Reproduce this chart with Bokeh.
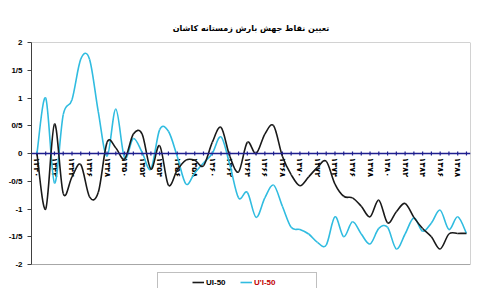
import math
from bokeh.plotting import figure
from bokeh.models import (Range1d, FixedTicker, Legend, LegendItem, Span, ColumnDataSource)
from bokeh.core.properties import value
from bokeh.embed import file_html
from bokeh.resources import INLINE

# ---- data -------------------------------------------------------------
years = [1340, 1341, 1342, 1343, 1344, 1345, 1346, 1347, 1348, 1349,
         1350, 1351, 1352, 1353, 1354, 1355, 1356, 1357, 1358, 1359,
         1360, 1361, 1362, 1363, 1364, 1365, 1366, 1367, 1368, 1369,
         1370, 1371, 1372, 1373, 1374, 1375, 1376, 1377, 1378, 1379,
         1380, 1381, 1382, 1383, 1384, 1385, 1386, 1387, 1388, 1389]

tick_labels = ["۱۳۴۰", "۱۳۴۲", "۱۳۴۴", "۱۳۴۶", "۱۳۴۸", "۱۳۵۰", "۱۳۵۲", "۱۳۵۴",
               "۱۳۵۶", "۱۳۵۸", "۱۳۶۰", "۱۳۶۲", "۱۳۶۴", "۱۳۶۶", "۱۳۶۸", "۱۳۷۰",
               "۱۳۷۲", "۱۳۷۴", "۱۳۷۶", "۱۳۷۸", "۱۳۸۰", "۱۳۸۲", "۱۳۸۴", "۱۳۸۶",
               "۱۳۸۸"]

ui50 = [0.0, -1.0, 0.53, -0.72, -0.42, -0.2, -0.78, -0.7, 0.2, 0.1,
        -0.1, 0.35, 0.35, -0.28, 0.14, -0.57, -0.3, -0.12, -0.12, -0.22,
        0.2, 0.47, -0.05, -0.33, 0.2, 0.0, 0.35, 0.5, -0.05, -0.38,
        -0.58, -0.42, -0.25, -0.14, -0.55, -0.77, -0.8, -0.95, -1.14, -0.84,
        -1.25, -1.05, -0.9, -1.15, -1.35, -1.5, -1.72, -1.45, -1.44, -1.44]

u1i50 = [0.0, 1.0, -0.53, 0.7, 0.97, 1.7, 1.7, 0.75, -0.05, 0.8,
         -0.08, 0.27, 0.02, -0.28, 0.43, 0.4, -0.05, -0.55, -0.35, -0.17,
         0.0, 0.3, -0.2, -0.8, -0.7, -1.15, -0.8, -0.57, -0.95, -1.33,
         -1.37, -1.45, -1.6, -1.65, -1.14, -1.5, -1.23, -1.45, -1.63, -1.35,
         -1.33, -1.72, -1.45, -1.16, -1.4, -1.25, -1.02, -1.37, -1.14, -1.44]

y_ticks = [-2, -1.5, -1, -0.5, 0, 0.5, 1, 1.5, 2]
y_tick_labels = ["-2", "-1/5", "-1", "-0/5", "0", "0/5", "1", "1/5", "2"]

series_names = ["UI-50", "U'I-50"]
title_text = "تعیین نقاط جهش بارش زمستانه کاشان"

# ---- helpers ----------------------------------------------------------
def smooth_segments(xs, ys):
    """Catmull-Rom -> cubic Bezier control points (Excel-like smoothed line)."""
    n = len(xs)
    d = dict(x0=[], y0=[], x1=[], y1=[], cx0=[], cy0=[], cx1=[], cy1=[])
    for i in range(n - 1):
        xa, ya = xs[max(i - 1, 0)], ys[max(i - 1, 0)]
        x0, y0 = xs[i], ys[i]
        x1, y1 = xs[i + 1], ys[i + 1]
        xb, yb = xs[min(i + 2, n - 1)], ys[min(i + 2, n - 1)]
        d["x0"].append(x0); d["y0"].append(y0)
        d["x1"].append(x1); d["y1"].append(y1)
        d["cx0"].append(x0 + (x1 - xa) / 6.0); d["cy0"].append(y0 + (y1 - ya) / 6.0)
        d["cx1"].append(x1 - (xb - x0) / 6.0); d["cy1"].append(y1 - (yb - y0) / 6.0)
    return ColumnDataSource(d)

idx = list(range(len(years)))
x_lo, x_hi = -0.62, len(years) - 1 + 0.46
y_lo, y_hi = y_ticks[0], y_ticks[-1]

# ---- figure -----------------------------------------------------------
# frame extends below the value axis to host the legend (as in the Excel chart area)
p = figure(width=473, height=288, output_backend="svg", toolbar_location=None,
           x_range=Range1d(x_lo, x_hi), y_range=Range1d(y_lo - 0.432, y_hi),
           x_axis_location=None,
           min_border_left=31, min_border_right=3, min_border_top=42, min_border_bottom=0)
p.background_fill_color = "white"
p.border_fill_color = "white"
p.outline_line_color = None
p.grid.visible = False

p.title.text = title_text
p.title.align = "center"
p.title.text_font = "DejaVu Sans"
p.title.text_font_style = "bold"
p.title.text_font_size = "8px"
p.title.text_color = "black"
p.title.standoff = 20

yax = p.yaxis[0]
yax.bounds = (y_lo, y_hi)
yax.ticker = FixedTicker(ticks=y_ticks)
yax.major_label_overrides = {t: l for t, l in zip(y_ticks, y_tick_labels)}
yax.major_label_text_font = "Liberation Sans"
yax.major_label_text_font_style = "bold"
yax.major_label_text_font_size = "8px"
yax.major_label_text_color = "black"
yax.major_label_standoff = 5
yax.major_tick_in = 0
yax.major_tick_out = 4
yax.minor_tick_out = 0
yax.minor_tick_in = 0
yax.axis_line_color = "#404040"
yax.major_tick_line_color = "#404040"

# plot-area border
p.quad(left=[x_lo], right=[x_hi], bottom=[y_lo], top=[y_hi], fill_color=None,
       line_color="#a6a6a6", line_width=1)

# zero line (category axis crossing at 0)
p.add_layout(Span(location=0, dimension="width", line_color="#1f1f8f", line_width=1.5))
p.scatter(x=idx, y=[0] * len(idx), marker="dash", angle=math.pi / 2, size=4,
          line_color="#1f1f8f", line_width=1.2)

# category labels, rotated, just below zero line
label_x = idx[::2]
p.text(x=label_x, y=[0] * len(label_x), text=tick_labels, angle=-math.pi / 2,
       text_align="left", text_baseline="middle", y_offset=4,
       text_font=value("DejaVu Sans"), text_font_style="bold", text_font_size="8px",
       text_color="black")

s_black = smooth_segments(idx, ui50)
s_cyan = smooth_segments(idx, u1i50)
r_cyan = p.bezier(x0="x0", y0="y0", x1="x1", y1="y1", cx0="cx0", cy0="cy0",
                  cx1="cx1", cy1="cy1", source=s_cyan, line_color="#30bce0", line_width=1.6)
r_black = p.bezier(x0="x0", y0="y0", x1="x1", y1="y1", cx0="cx0", cy0="cy0",
                   cx1="cx1", cy1="cy1", source=s_black, line_color="#1a1a1a", line_width=1.6)

leg_a = Legend(items=[LegendItem(label=series_names[0], renderers=[r_black])],
               location=(126, -4), orientation="horizontal",
               title=" ", title_location="left", title_standoff=21,
               title_text_font_size="8px",
               padding=4, margin=0, spacing=0,
               glyph_width=12, glyph_height=10, label_height=10, label_width=106,
               label_standoff=2,
               label_text_font="Liberation Sans", label_text_font_style="bold",
               label_text_font_size="8px", label_text_color="black",
               border_line_color="#7f7f7f", border_line_width=1,
               background_fill_color="white", background_fill_alpha=1)
leg_b = Legend(items=[LegendItem(label=series_names[1], renderers=[r_cyan])],
               location=(209, 1), orientation="horizontal",
               padding=4, margin=0, spacing=0,
               glyph_width=12, glyph_height=10, label_height=10, label_standoff=2,
               label_text_font="Liberation Sans", label_text_font_style="bold",
               label_text_font_size="8px", label_text_color="#c00000",
               border_line_color=None, background_fill_alpha=0)
p.add_layout(leg_a, "center")
p.add_layout(leg_b, "center")

open("out.html", "w").write(file_html(p, INLINE))
